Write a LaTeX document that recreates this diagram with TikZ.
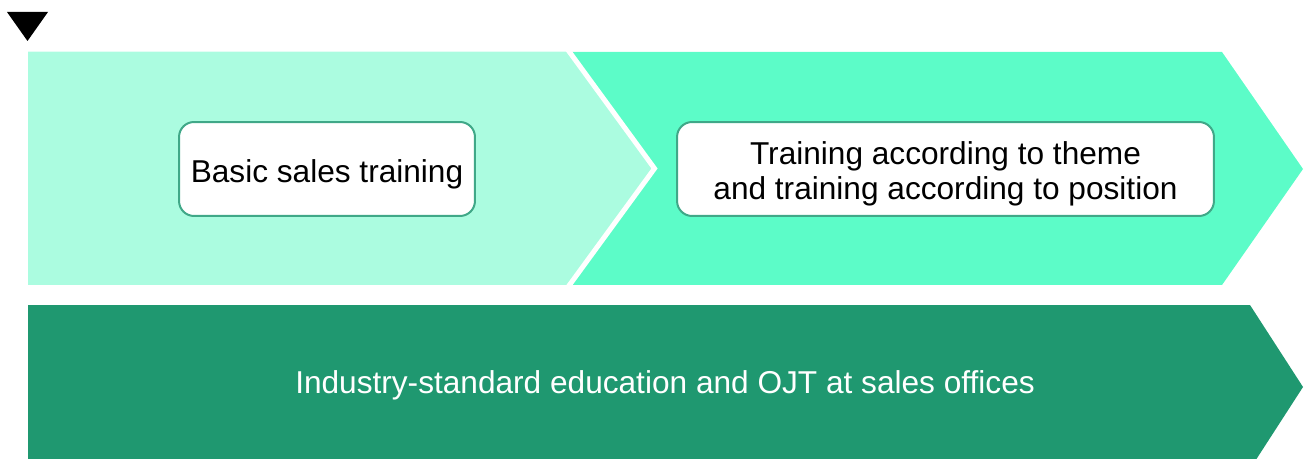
\documentclass[tikz,border=0pt]{standalone}
\usepackage{fontspec}
\setmainfont{Liberation Sans}
\usetikzlibrary{positioning}

\definecolor{bandlight}{HTML}{ABFCE0}
\definecolor{bandmid}{HTML}{5CFCC8}
\definecolor{banddark}{HTML}{1F9870}
\definecolor{boxline}{HTML}{40A888}

\begin{document}
\begin{tikzpicture}[x=0.02cm, y=-0.02cm,
    stagebox/.style={draw=boxline, line width=0.04cm, fill=white, rounded corners=0.3cm,
        minimum height=1.88cm, align=center, text depth=0pt, font=\fontsize{18}{20}\selectfont}]
    \useasboundingbox (0,0) rectangle (1305,459);

    % Start marker
    \fill[black] (7,12) -- (48,12) -- (27.5,41) -- cycle;

    % Upper band: second stage arrow
    \fill[bandmid] (28,52) -- (1222,52) -- (1303,169) -- (1222,285) -- (28,285) -- cycle;

    % Upper band: first stage chevron with white gap
    \fill[bandlight] (28,52) -- (569.5,52) -- (654.5,168.5) -- (569.5,285) -- (28,285) -- cycle;
    \draw[white, line width=0.1cm] (567.3,49) -- (654.5,168.5) -- (567.3,288);

    % Lower band
    \fill[banddark] (28,305) -- (1250,305) -- (1303,387) -- (1250,469) -- (28,469) -- cycle;

    % Stage boxes
    \node[stagebox, minimum width=5.92cm, text height=15pt] (basic) at (327,169) {Basic sales training};
    \node[stagebox, minimum width=10.74cm, text height=35pt] (theme) at (945.5,169)
        {Training according to theme\\and training according to position};

    % Lower band label
    \node[white, font=\fontsize{18}{20}\selectfont] (ojt) at (665,385)
        {Industry-standard education and OJT at sales offices};
\end{tikzpicture}
\end{document}
